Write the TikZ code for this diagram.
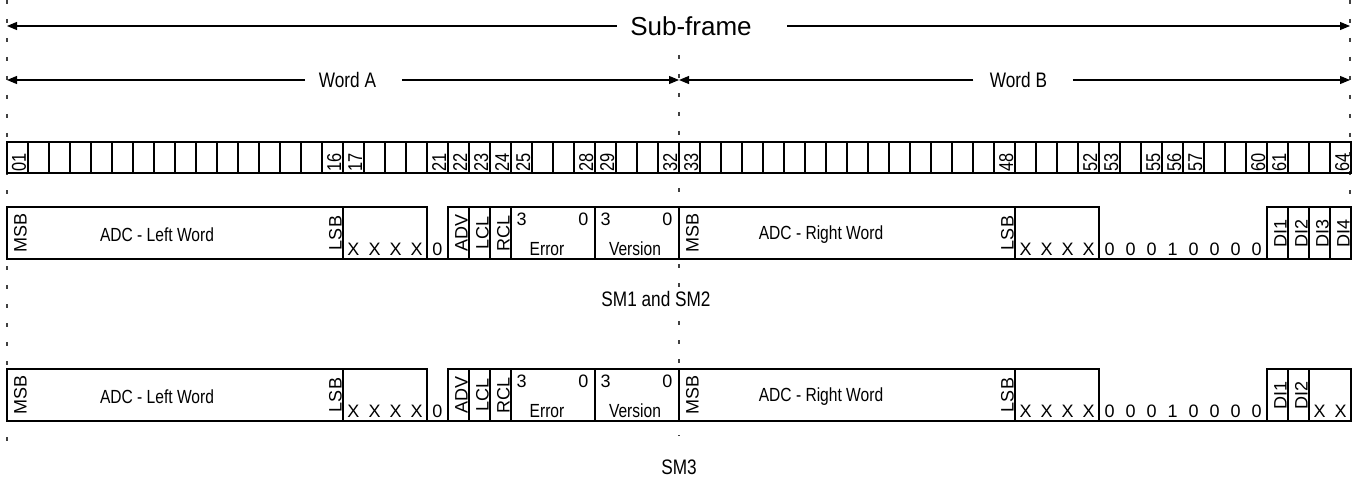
\documentclass[tikz,border=0pt]{standalone}
\usepackage{fontspec}
\setmainfont{Liberation Sans}
\newfontfamily\narrowsf{Liberation Sans}[FakeStretch=0.82]
\usetikzlibrary{arrows.meta}

\begin{document}
\begin{tikzpicture}[x=0.75pt,y=-0.75pt,thick,
    bitnum/.style={rotate=90,anchor=base west,inner sep=0pt,font=\narrowsf\fontsize{15}{16}\selectfont},
    vlab/.style={rotate=90,anchor=base,inner sep=0pt,font=\fontsize{13.5}{14}\selectfont},
    cellch/.style={anchor=base,inner sep=0pt,font=\fontsize{13.5}{14}\selectfont},
    fieldlab/.style={inner sep=0pt,font=\narrowsf\fontsize{14.25}{16}\selectfont},
    spanlab/.style={inner xsep=10pt,inner ysep=0pt,font=\narrowsf\fontsize{15.75}{18}\selectfont},
    guide/.style={line width=0.8pt,black!75,dash pattern=on 3pt off 11.25pt},
    span/.style={line width=0.8pt,-{Triangle[length=7.5pt,width=6pt]}},
]
\useasboundingbox (0,0) rectangle (1354,478);

% Dashed guide lines
\draw[guide] (7,0) -- (7,445);
\draw[guide] (679,55) -- (679,436);
\draw[guide] (1350,0) -- (1350,207);

% Span arrows
\coordinate (sfL) at (7,26);
\coordinate (sfR) at (1350,26);
\coordinate (waL) at (7,80);
\coordinate (mid) at (679,80);
\coordinate (wbR) at (1350,80);
\node[inner xsep=9.75pt,inner ysep=0pt,font=\fontsize{19.5}{22}\selectfont] (sf) at (691,26) {Sub-frame};
\node[spanlab] (wa) at (347.5,80) {Word A};
\node[spanlab] (wb) at (1018.5,80) {Word B};
\draw[span] (sf.west) -- (sfL);
\draw[span] ([xshift=16.5pt]sf.east) -- (sfR);
\draw[span] (wa.west) -- (waL);
\draw[span] ([xshift=9pt]wa.east) -- (mid);
\draw[span] ([xshift=-2pt]wb.west) -- (mid);
\draw[span] ([xshift=9pt]wb.east) -- (wbR);

% Bit cells
\draw (7,142) rectangle (1351,173);
\foreach \i in {1,...,63}
    \draw (7+21*\i,142) -- (7+21*\i,173);
\foreach \n in {01,16,17,21,22,23,24,25,28,29,32,33,48,52,53,55,56,57,60,61,64}
    \node[bitnum] (b\n) at (5+21*\n,172) {\n};

% Field rows
\foreach \t/\r in {207/1,369/2}{
    \draw (7,\t) rectangle (343,\t+52);
    \draw (343,\t) rectangle (427,\t+52);
    \draw (448,\t) rectangle (469,\t+52);
    \draw (469,\t) rectangle (490,\t+52);
    \draw (490,\t) rectangle (511,\t+52);
    \draw (511,\t) rectangle (595,\t+52);
    \draw (595,\t) rectangle (679,\t+52);
    \draw (679,\t) rectangle (1015,\t+52);
    \draw (1015,\t) rectangle (1099,\t+52);
    \draw (1267,\t) rectangle (1288,\t+52);
    \draw (1288,\t) rectangle (1309,\t+52);
    \draw (7,\t+52) -- (1351,\t+52);
    % left word
    \node[vlab] (msbL\r) at (26.5,\t+26) {MSB};
    \node[fieldlab] (adcL\r) at (157,\t+28) {ADC - Left Word};
    \node[vlab] (lsbL\r) at (341.5,\t+26) {LSB};
    \foreach \k in {0,...,3}
        \node[cellch] (xL\r\k) at (353.5+21*\k,\t+48) {X};
    \node[cellch] (zero\r) at (437.5,\t+48) {0};
    \node[vlab] (adv\r) at (467.5,\t+26) {ADV};
    \node[vlab] (lcl\r) at (488.5,\t+26) {LCL};
    \node[vlab] (rcl\r) at (509.5,\t+26) {RCL};
    % error and version
    \node[cellch,anchor=base west] (errhi\r) at (516,\t+18) {3};
    \node[cellch,anchor=base east] (errlo\r) at (589,\t+18) {0};
    \node[fieldlab,anchor=base] (err\r) at (547,\t+48) {Error};
    \node[cellch,anchor=base west] (verhi\r) at (600,\t+18) {3};
    \node[cellch,anchor=base east] (verlo\r) at (673,\t+18) {0};
    \node[fieldlab,anchor=base] (ver\r) at (635,\t+48) {Version};
    % right word
    \node[vlab] (msbR\r) at (698.5,\t+26) {MSB};
    \node[fieldlab] (adcR\r) at (821,\t+28) {ADC - Right Word};
    \node[vlab] (lsbR\r) at (1013.5,\t+26) {LSB};
    \foreach \k in {0,...,3}
        \node[cellch] (xR\r\k) at (1025.5+21*\k,\t+48) {X};
    \foreach \d [count=\k from 0] in {0,0,0,1,0,0,0,0}
        \node[cellch] (d\r\k) at (1109.5+21*\k,\t+48) {\d};
    \node[vlab] (dia\r) at (1286.5,\t+26) {DI1};
    \node[vlab] (dib\r) at (1307.5,\t+26) {DI2};
}

% SM1 and SM2 tail
\draw (1309,207) rectangle (1330,259);
\draw (1330,207) rectangle (1351,259);
\node[vlab] (dic1) at (1328.5,233) {DI3};
\node[vlab] (did1) at (1349.5,233) {DI4};

% SM3 tail
\draw (1309,369) rectangle (1351,421);
\node[cellch] (xx1) at (1319.5,417) {X};
\node[cellch] (xx2) at (1340.5,417) {X};

% Row names
\node[spanlab,inner xsep=0pt,fill=white] (sm12) at (656,299) {SM1 and SM2};
\node[spanlab,inner xsep=0pt] (sm3) at (679,467) {SM3};
\end{tikzpicture}
\end{document}
